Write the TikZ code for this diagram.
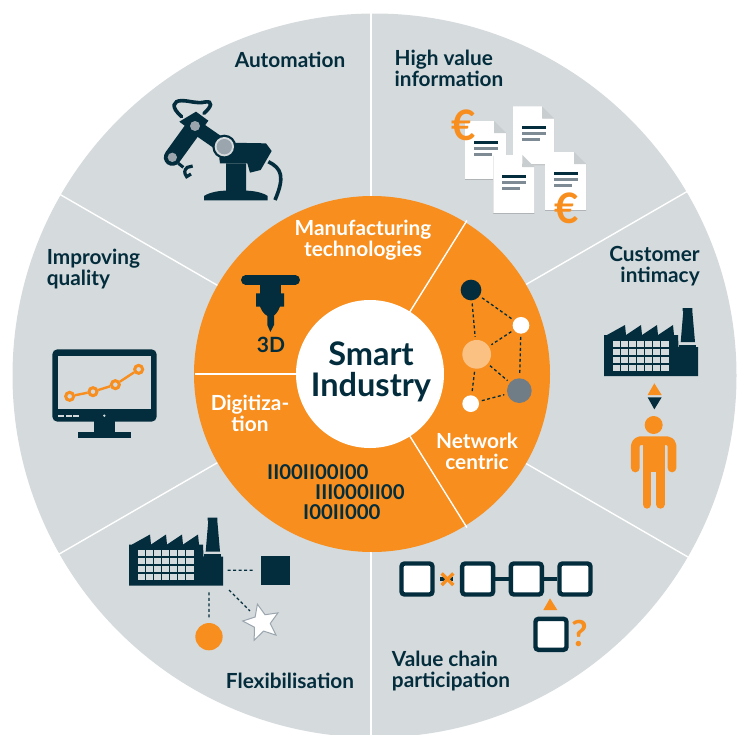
\documentclass[tikz,border=0pt]{standalone}
\usepackage{fontspec}
\setmainfont{Lato}
\usetikzlibrary{shapes.geometric}
\definecolor{wheelgray}{HTML}{D5DADD}
\definecolor{wheelorange}{HTML}{F78E1E}
\definecolor{wheeldark}{HTML}{032D3C}
\definecolor{jointgray}{HTML}{9AA5AE}
\definecolor{bargray}{HTML}{7E8B95}
\tikzset{
  label/.style={inner sep=0pt,text=wheeldark,font=\fontsize{20.8}{21}\selectfont\bfseries,align=left},
  seglabel/.style={inner sep=0pt,text=white,font=\fontsize{20.8}{21}\selectfont\bfseries,align=center},
  binary/.style={inner sep=0pt,text=wheeldark,font=\fontsize{20.4}{21}\selectfont\bfseries,anchor=west},
  spoke/.style={draw=white,line width=1.4pt},
  netnode/.style={circle,inner sep=0pt},
  netline/.style={draw=wheeldark,line width=1.3pt,dash pattern=on 3pt off 2.5pt,shorten >=3pt,shorten <=3pt},
  flexline/.style={draw=wheeldark,line width=1.2pt,dash pattern=on 3pt off 2.5pt},
  chainbox/.style={draw=wheeldark,fill=white,line width=4.4pt,rounded corners=3pt,minimum size=31pt,inner sep=0pt},
  plotdot/.style={circle,draw=wheelorange,line width=3pt,fill=wheelgray,minimum size=8pt,inner sep=0pt},
  factorypic/.pic={
    \fill[wheeldark] (0,0)--(0,-41)--(3,-41)--(21,-51)--(22,-41)--(37,-51)--(38,-41)--(53,-51)--(54,-41)--(69,-51)--(70,-41)--(74,-41)--(74.5,-29)--(94,-29)--(94,0)--cycle;
    \fill[wheeldark] (78.7,-68)--(88.3,-68)--(88.3,-65)--(91,-34)--(76.7,-34)--(79.3,-65)--(78.7,-65)--cycle;
    \fill[wheeldark] (74.5,-31.5)--(92,-31.5)--(92,-29)--(74.5,-29)--cycle;
    \foreach \i in {0,...,5}
      \foreach \j in {0,...,3}
        \fill[wheelgray] (9.3+8*\i,-35.3+8*\j) rectangle +(6.8,6.2);
    \foreach \j in {0,...,3}
      \fill[wheelgray] (57.3,-35.3+8*\j) rectangle +(8,6.2);
  },
  docpic/.pic={
    \fill[black!22!wheelgray] (0,0.8)--(0,58.8)--(41,58.8)--(41,12)--cycle;
    \fill[white] (0,0)--(29,0)--(29,12)--(41,12)--(41,58)--(0,58)--cycle;
    \fill[black!6!wheelgray] (29,0)--(41,12)--(29,12)--cycle;
    \fill[wheeldark] (9,20) rectangle +(24,3);
    \fill[bargray] (9,26) rectangle +(24,3);
    \fill[bargray] (9,32) rectangle +(18,3);
  }
}
\begin{document}
\begin{tikzpicture}[x=1pt,y=-1pt]
\useasboundingbox (0,0) rectangle (739,734);
\fill[wheelgray] (374.5,375.5) circle (362);
\foreach \a in {30,90,150,210,270,330}
  \draw[spoke] (371,374)+(\a:175)--+(\a:366);
\fill[wheelorange] (372,374) circle (178);
\foreach \a/\r in {58/181,180/176,302/181}
  \draw[spoke] (371,374)+(\a:70)--+(\a:\r);
\node[circle,fill=white,minimum size=148pt,inner sep=0pt] (hub) at (370,374) {};
\node[inner sep=0pt,text=wheeldark,font=\fontsize{32.5}{31}\selectfont\bfseries,align=center] (smart) at (371,371.5) {Smart\\Industry};

\node[label] (automation) at (290,60) {Automation};
\node[label] (highvalue) at (449,68) {High value\\information};
\node[label,align=right] (customer) at (654.5,266.5) {Customer\\intimacy};
\node[label] (quality) at (93.5,269) {Improving\\quality};
\node[label] (flexible) at (290,681) {Flexibilisation};
\node[label] (chain) at (451,671.5) {Value chain\\participation};
\node[seglabel] (manufacturing) at (363,240) {Manufacturing\\technologies};
\node[seglabel] (digitization) at (250,413.5) {Digitiza-\\tion};
\node[seglabel] (network) at (477,451.5) {Network\\centric};

\begin{scope}[shift={(140,80)},scale=1/3]
\fill[wheeldark] (192,361)--(192,348) .. controls (210,336) and (240,332) .. (258,332)--(258,250)--(318,250)--(318,332) .. controls (340,332) and (370,338) .. (383,348)--(383,361)--cycle;
\fill[wheeldark] (238,235)--(262,188)--(378,190)--(395,213)--(362,270)--(330,278)--(322,250)--(240,250)--cycle;
\draw[wheeldark,line width=3.6pt] (385,245) .. controls (425,265) and (435,290) .. (405,360);
\draw[wheeldark,line width=3.6pt,line cap=round] (125,110) .. controls (90,80) and (100,62) .. (125,62) .. controls (150,62) and (170,72) .. (195,66) .. controls (220,62) and (215,80) .. (192,100);
\draw[wheeldark,line width=14pt] (180,150)--(245,195);
\fill[wheeldark] (118,125)--(168,95)--(205,122)--(175,165)--(150,150)--(135,138)--cycle;
\draw[wheeldark,line width=17pt,line cap=round] (97,232)--(165,138);
\fill[jointgray] (165,138) circle (15);
\fill[jointgray] (97,232) circle (14);
\fill[wheeldark] (253,200) circle (36);
\fill[wheelgray] (253,200) circle (29);
\fill[jointgray] (253,200) circle (23);
\draw[wheeldark,line width=3pt] (115,250)--(130,262);
\draw[wheeldark,line width=3.2pt] (158,258)--(142,262) .. controls (132,270) and (132,280) .. (140,290)--(153,282);
\end{scope}

\pic at (465,121) {docpic};
\pic at (513,106.3) {docpic};
\pic at (493.3,155) {docpic};
\pic at (545,152) {docpic};
\node[inner sep=0pt,text=wheelorange,font=\fontsize{42}{42}\selectfont\bfseries] (euroa) at (464,125) {€};
\node[inner sep=0pt,text=wheelorange,font=\fontsize{42}{42}\selectfont\bfseries] (eurob) at (567,208) {€};

\pic at (604,376) {factorypic};
\begin{scope}[shift={(590,295)},scale=1/3]
\fill[wheelorange] (193,265)--(215,300)--(173,300)--cycle;
\fill[wheeldark] (173,307)--(215,307)--(193,343)--cycle;
\fill[wheelorange] (191,390) circle (27);
\draw[wheelorange,line width=8.7pt,line cap=round,line join=round,rounded corners=5pt] (136,519)--(136,437)--(246,437)--(246,519);
\fill[wheelorange] (158,430) rectangle (225,532);
\draw[wheelorange,line width=8.7pt,line cap=round] (171,530)--(171,628);
\draw[wheelorange,line width=8.7pt,line cap=round] (211,530)--(211,628);
\end{scope}

\begin{scope}[shift={(410,220)},scale=1/3]
\node[netnode,fill=wheeldark,minimum size=20.7pt] (netblack) at (183,210) {};
\node[netnode,fill=white,minimum size=16.7pt] (netwhite) at (333,316) {};
\node[netnode,fill=wheelorange!55!white,minimum size=28.7pt] (netpeach) at (200,403) {};
\node[netnode,fill=bargray!90!black,minimum size=24.7pt] (netgray) at (328,512) {};
\node[netnode,fill=white,minimum size=16.7pt] (netsmall) at (182,551) {};
\draw[netline] (netblack)--(netwhite);
\draw[netline] (netblack)--(netpeach);
\draw[netline] (netwhite)--(netpeach);
\draw[netline] (netwhite)--(netgray);
\draw[netline] (netpeach)--(netgray);
\draw[netline] (netpeach)--(netsmall);
\draw[netline] (netsmall)--(netgray);
\end{scope}

\begin{scope}[shift={(200,260)},scale=1/3]
\draw[wheeldark,line width=9.3pt,line cap=round] (137,60)--(286,60);
\fill[wheeldark] (180,70) rectangle (243,105);
\fill[wheeldark] (168,100)--(252,100)--(252,140)--(240,140) .. controls (232,160) and (222,170) .. (212,170) .. controls (200,170) and (188,160) .. (180,140)--(168,140)--cycle;
\fill[wheeldark] (202,165)--(222,165)--(222,195)--(211,216)--(202,195)--cycle;
\end{scope}
\node[inner sep=0pt,text=wheeldark,font=\fontsize{21}{21}\selectfont\bfseries] (threed) at (271,345) {3D};

\node[binary] (bits) at (267,472) {II00II00I00};
\node[binary] (bitsb) at (315,492) {III000II00};
\node[binary] (bitsc) at (303,512) {I00II000};

\begin{scope}[shift={(40,340)},scale=1/3]
\fill[wheeldark] (162,240) rectangle (224,276);
\fill[wheeldark] (113,275) rectangle (273,293);
\fill[wheeldark,rounded corners=5pt] (37,28) rectangle (350,245);
\fill[wheelgray] (54,47) rectangle (332,208);
\fill[wheelgray] (54,225) rectangle (72,231);
\fill[wheelgray] (78,225) rectangle (95,231);
\fill[wheelgray] (100,225) rectangle (117,231);
\fill[wheelgray] (193,227) circle (4);
\node[plotdot] (plota) at (89,169) {};
\node[plotdot] (plotb) at (159,155) {};
\node[plotdot] (plotc) at (226,134) {};
\node[plotdot] (plotd) at (296,88) {};
\draw[wheelorange,line width=2.4pt] (plota)--(plotb);
\draw[wheelorange,line width=2.4pt] (plotb)--(plotc);
\draw[wheelorange,line width=2.4pt] (plotc)--(plotd);
\end{scope}

\pic at (129,585.5) {factorypic};
\begin{scope}[shift={(120,510)},scale=1/3]
\coordinate (flexright) at (323,181);
\coordinate (flexdown) at (267,247);
\coordinate (flexdiag) at (327,240);
\node[fill=wheeldark,minimum size=29pt,inner sep=0pt] (flexsquare) at (466.5,181) {};
\node[circle,fill=wheelorange,minimum size=27.3pt,inner sep=0pt] (flexcircle) at (267,380) {};
\node[star,star points=5,star point ratio=2.2,draw=jointgray,line width=1pt,fill=white,minimum size=38pt,inner sep=0pt,rotate=13] (flexstar) at (425,338) {};
\draw[flexline,shorten >=6.5pt] (flexright)--(flexsquare);
\draw[flexline,shorten >=4pt] (flexdown)--(flexcircle);
\draw[flexline,shorten >=7pt] (flexdiag)--(flexstar);
\end{scope}

\begin{scope}[shift={(390,550)},scale=1/3]
\node[chainbox] (boxa) at (81,87) {};
\node[chainbox] (boxb) at (263,87) {};
\node[chainbox] (boxc) at (409,87) {};
\node[chainbox] (boxd) at (555,87) {};
\node[chainbox] (boxe) at (483,253) {};
\coordinate (stubleft) at (150,87);
\coordinate (stubright) at (190,87);
\draw[wheeldark,line width=4.4pt] (boxb)--(boxc);
\draw[wheeldark,line width=4.4pt] (boxc)--(boxd);
\draw[wheeldark,line width=4.4pt] (stubleft)--(stubright);
\draw[wheelorange,line width=3.3pt] (155,70)--(190,105);
\draw[wheelorange,line width=3.3pt] (190,70)--(155,105);
\fill[wheelorange] (480,145)--(502,180)--(460,180)--cycle;
\node[inner sep=0pt,text=wheelorange,font=\fontsize{36}{36}\selectfont\bfseries] (query) at (570,250) {?};
\end{scope}
\end{tikzpicture}
\end{document}
